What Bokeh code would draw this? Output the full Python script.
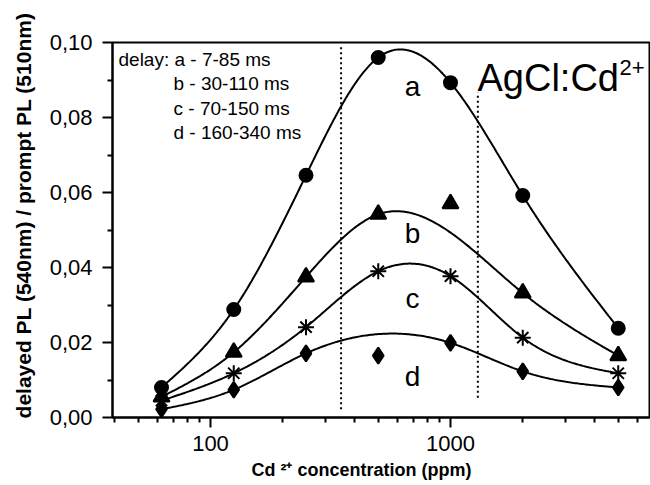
import numpy as np
from bokeh.plotting import figure
from bokeh.models import FixedTicker, CustomJSTickFormatter, Label, Range1d
from bokeh.embed import file_html
from bokeh.resources import INLINE

# ---------------- data ----------------
conc = [62.5, 125, 250, 500, 1000, 2000, 5000]
ser_a = [0.0080, 0.0288, 0.0646, 0.0960, 0.0893, 0.0592, 0.0238]
ser_b = [0.0055, 0.0174, 0.0375, 0.0542, 0.0570, 0.0332, 0.0165]
ser_c = [0.0045, 0.0118, 0.0241, 0.0390, 0.0377, 0.0213, 0.0118]
ser_d = [0.0022, 0.0074, 0.0171, 0.0165, 0.0199, 0.0123, 0.0080]
# which points the drawn smooth curve passes through (off-curve points excluded)
on_curve_a = [1, 1, 1, 1, 1, 1, 1]
on_curve_b = [1, 1, 1, 1, 0, 1, 1]
on_curve_c = [1, 1, 1, 1, 1, 1, 1]
on_curve_d = [1, 1, 1, 0, 1, 1, 1]
series_names = ["a", "b", "c", "d"]
markers = ["circle", "triangle", "asterisk", "diamond"]
legend_lines = ["delay: a - 7-85 ms", "b - 30-110 ms", "c - 70-150 ms", "d - 160-340 ms"]
y_ticks = [0.0, 0.02, 0.04, 0.06, 0.08, 0.10]
y_minor = [0.01, 0.03, 0.05, 0.07, 0.09]
x_ticks = [100, 1000]
x_minor = [40, 50, 60, 70, 80, 90, 200, 300, 400, 500, 600, 700, 800, 900,
           2000, 3000, 4000, 5000, 6000]
guide_x = [350, 1300]
guide_y0 = [0.0022, 0.0053]
guide_y1 = [0.0995, 0.0867]

# ---------------- layout helpers (page px -> data) ----------------
def sx(px):
    return 10 ** (2 + (px - 210) / 240.0)

def sy(py):
    return (417 - py) / 375.0 * 0.10


def natural_spline(xk, yk, xq):
    xk = np.asarray(xk, float); yk = np.asarray(yk, float)
    n = len(xk); h = np.diff(xk)
    A = np.zeros((n, n)); r = np.zeros(n)
    A[0, 0] = 1; A[-1, -1] = 1
    for i in range(1, n - 1):
        A[i, i - 1] = h[i - 1]; A[i, i] = 2 * (h[i - 1] + h[i]); A[i, i + 1] = h[i]
        r[i] = 3 * ((yk[i + 1] - yk[i]) / h[i] - (yk[i] - yk[i - 1]) / h[i - 1])
    c = np.linalg.solve(A, r)
    b = (yk[1:] - yk[:-1]) / h - h * (2 * c[:-1] + c[1:]) / 3
    d = (c[1:] - c[:-1]) / (3 * h)
    idx = np.clip(np.searchsorted(xk, xq) - 1, 0, n - 2)
    t = xq - xk[idx]
    return yk[idx] + b[idx] * t + c[idx] * t ** 2 + d[idx] * t ** 3


FONT = "Liberation Sans"
NB = "\u00a0"

p = figure(width=650, height=485, x_axis_type="log",
           x_range=Range1d(sx(112), sx(650)), y_range=Range1d(0, 0.10),
           output_backend="svg", toolbar_location=None,
           min_border_left=112, min_border_right=0,
           min_border_top=42, min_border_bottom=68)
p.background_fill_color = "white"
p.border_fill_color = "white"
p.grid.visible = False
p.outline_line_color = "black"
p.outline_line_width = 2

# axes
p.xaxis.ticker = FixedTicker(ticks=x_ticks, minor_ticks=x_minor)
p.xaxis.formatter = CustomJSTickFormatter(code="return tick.toFixed(0);")
p.yaxis.ticker = FixedTicker(ticks=y_ticks, minor_ticks=y_minor)
p.yaxis.formatter = CustomJSTickFormatter(code="return tick.toFixed(2).replace('.', ',');")
for ax in (p.xaxis[0], p.yaxis[0]):
    ax.axis_line_width = 2
    ax.axis_line_color = "black"
    ax.major_tick_line_width = 2
    ax.minor_tick_line_width = 2
    ax.major_tick_out = 10
    ax.major_tick_in = 0
    ax.minor_tick_out = 5
    ax.minor_tick_in = 0
    ax.major_label_text_font = FONT
    ax.major_label_text_font_size = "22px"
    ax.major_label_text_color = "black"
    ax.axis_label_text_font = FONT
    ax.axis_label_text_font_style = "bold"
    ax.axis_label_text_color = "black"
p.xaxis.major_label_standoff = 8
p.yaxis.major_label_standoff = 10

p.xaxis.axis_label = "Cd ²⁺ concentration (ppm)" + NB * 8
p.xaxis.axis_label_text_font_size = "18px"
p.xaxis.axis_label_standoff = 6
p.yaxis.axis_label = NB * 5 + "delayed PL (540nm) / prompt PL (510nm)"
p.yaxis.axis_label_text_font_size = "21px"
p.yaxis.axis_label_standoff = 12

# guide lines
for gx, g0, g1 in zip(guide_x, guide_y0, guide_y1):
    p.line([gx, gx], [g0, g1], line_color="black", line_width=2, line_dash="2 3")

# fit curves + markers
all_series = [ser_a, ser_b, ser_c, ser_d]
all_on = [on_curve_a, on_curve_b, on_curve_c, on_curve_d]
lx = np.log10(np.array(conc, dtype=float))
xs = np.linspace(lx.min(), lx.max(), 300)
for ys, on, mk in zip(all_series, all_on, markers):
    m = np.array(on, dtype=bool)
    curve = natural_spline(lx[m], np.array(ys)[m], xs)
    p.line(10 ** xs, curve, line_color="black", line_width=2)
    size = 13 if mk == "circle" else 16
    p.scatter(conc, ys, marker=mk, size=size, fill_color="black",
              line_color="black", line_width=2)

# curve letters
letter_y = [0.0882, 0.0490, 0.0317, 0.0110]
for name, ly in zip(series_names, letter_y):
    p.add_layout(Label(x=sx(412), y=ly, text=name, text_font=FONT,
                       text_font_size="28px", text_align="center",
                       text_baseline="middle", text_color="black"))

# legend text
leg_pos = [(118, 59), (173, 83), (173, 108), (173, 132)]
for t, (lxp, lyp) in zip(legend_lines, leg_pos):
    p.add_layout(Label(x=sx(lxp), y=sy(lyp), text=t, text_font=FONT,
                       text_font_size="19px", text_align="left",
                       text_baseline="middle", text_color="black"))

# AgCl:Cd2+
p.add_layout(Label(x=sx(477), y=sy(77), text="AgCl:Cd", text_font=FONT,
                   text_font_size="38px", text_align="left",
                   text_baseline="alphabetic", text_color="black"))
p.add_layout(Label(x=sx(619), y=sy(67), text="2+", text_font=FONT,
                   text_font_size="22px", text_align="left",
                   text_baseline="alphabetic", text_color="black"))

open("out.html", "w").write(file_html(p, INLINE))
